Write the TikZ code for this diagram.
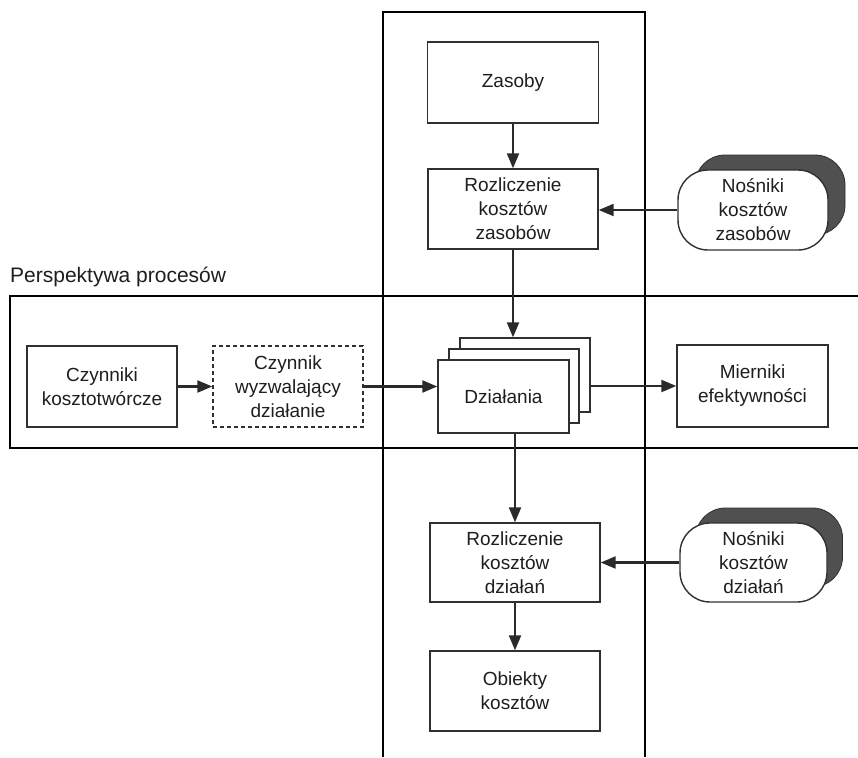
\documentclass[tikz,border=0pt]{standalone}
\usepackage{fontspec}
\setmainfont{Liberation Sans}
\usetikzlibrary{arrows.meta}
\definecolor{boxc}{HTML}{303030}
\definecolor{arrc}{HTML}{2A2A2A}
\definecolor{txt}{HTML}{1E1E1E}
\definecolor{shad}{HTML}{505050}
\tikzset{
  box/.style={draw=boxc, line width=1.4pt, fill=white, align=center,
    font=\fontsize{19}{24}\selectfont, text=txt, inner sep=0pt},
  arr/.style={draw=arrc, line width=2.2pt, -{Triangle[length=15pt,width=12pt]}},
  frame/.style={draw=black, line width=1.6pt},
  nos/.style={box, rounded corners=30pt},
  nosshad/.style={draw=boxc, fill=shad, rounded corners=30pt, line width=0.8pt, inner sep=0pt}
}
\begin{document}
\begin{tikzpicture}[x=1pt,y=-1pt]
\useasboundingbox[fill=white] (0,0) rectangle (858,757);
% frames
\draw[frame] (383,757) -- (383,12) -- (645,12) -- (645,757);
\draw[frame] (858,296) -- (10,296) -- (10,448) -- (858,448);
\node[anchor=base west, font=\fontsize{21}{25}\selectfont, text=txt, inner sep=0pt] (lbl) at (10,282) {Perspektywa procesów};
% top column
\node[box, minimum width=171pt, minimum height=81pt] (zas) at (513,82.5) {Zasoby};
\node[box, minimum width=170pt, minimum height=80pt] (rozz) at (513,209) {Rozliczenie\\kosztów\\zasobów};
\node[nosshad, minimum width=150pt, minimum height=80pt] (noszs) at (770,195) {};
\node[nos, minimum width=150pt, minimum height=80pt] (nosz) at (753,210) {Nośniki\\kosztów\\zasobów};
% activities stack
\node[box, minimum width=130pt, minimum height=74pt] (dz3) at (525,375) {};
\node[box, minimum width=130pt, minimum height=74pt] (dz2) at (514,386) {};
\node[box, minimum width=131pt, minimum height=73pt] (dz1) at (503.5,396.5) {Działania};
% process row
\node[box, minimum width=150pt, minimum height=81pt] (czy) at (102,386.5) {Czynniki\\kosztotwórcze};
\node[box, dashed, dash pattern=on 4pt off 3pt, minimum width=150pt, minimum height=81pt] (wyz) at (288,386.5) {Czynnik\\wyzwalający\\działanie};
\node[box, minimum width=151pt, minimum height=82pt] (mier) at (752.5,386) {Mierniki\\efektywności};
% bottom column
\node[box, minimum width=170pt, minimum height=79pt] (rozd) at (515,562.5) {Rozliczenie\\kosztów\\działań};
\node[nosshad, minimum width=147pt, minimum height=79pt] (nosds) at (769,547.5) {};
\node[nos, minimum width=147pt, minimum height=79pt] (nosd) at (753.5,562.5) {Nośniki\\kosztów\\działań};
\node[box, minimum width=170pt, minimum height=80pt] (obi) at (515,691) {Obiekty\\kosztów};
% connectors
\draw[arr] (zas.south) -- (rozz.north);
\draw[arr] (rozz.south) -- (rozz.south |- dz3.north);
\draw[arr] (nosz.west) -- (nosz.west -| rozz.east);
\draw[arr] (czy.east) -- (wyz.west);
\draw[arr] (wyz.east) -- (wyz.east -| dz1.west);
\draw[arr] (dz3.east |- mier.west) -- (mier.west);
\draw[arr] (dz1.south -| rozd.north) -- (rozd.north);
\draw[arr] (nosd.west) -- (nosd.west -| rozd.east);
\draw[arr] (rozd.south) -- (obi.north);
\end{tikzpicture}
\end{document}
